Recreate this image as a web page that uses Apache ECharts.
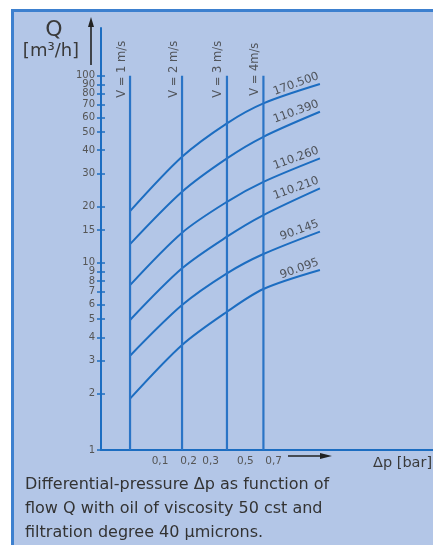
<!DOCTYPE html>
<html><head><meta charset="utf-8">
<script src="https://cdn.jsdelivr.net/npm/echarts@6/dist/echarts.min.js"></script>
<style>
html,body{margin:0;padding:0;background:#fff;width:433px;height:545px;overflow:hidden}
#panel{position:absolute;left:11px;top:9px;width:422px;height:536px;background:#b3c6e7;border-left:3px solid #3d80cf;border-top:3px solid #3d80cf;box-sizing:border-box}
#chart{position:absolute;left:0;top:0;width:433px;height:545px}
</style></head><body>
<div id="panel"></div><div id="chart"></div>
<script>
// ---- data ----
const velocityLabels = ['V = 1 m/s', 'V = 2 m/s', 'V = 3 m/s', 'V = 4m/s'];
const velocityDp = [0.032, 0.174, 0.388, 0.624];      // Δp [bar] of each velocity line (schematic)
const velocityLineQ = [1, 100];                         // Q range of velocity lines
const curvePointDp = [0.032, 0.174, 0.388, 0.624, 1.10];
const curveNames = ['170.500', '110.390', '110.260', '110.210', '90.145', '90.095'];
const q170500 = [18.9, 36.9, 55.7, 71.2, 90.3];
const q110390 = [12.6, 24.0, 36.2, 47.2, 64.2];
const q110260 = [7.61, 14.5, 21.2, 27.1, 36.2];
const q110210 = [4.95, 9.35, 13.8, 18.0, 25.0];
const q90145 = [3.19, 5.95, 8.79, 11.15, 14.7];
const q90095 = [1.88, 3.64, 5.48, 7.25, 9.16];
const yTickValues = [1, 2, 3, 4, 5, 6, 7, 8, 9, 10, 15, 20, 30, 40, 50, 60, 70, 80, 90, 100];
const xTickValues = [0.1, 0.2, 0.3, 0.5, 0.7];
const axisDpRange = [0.0021, 2.455];
const axisQRange = [1, 180];

// ---- scales: Δp axis is square-root, Q axis is logarithmic ----
const sx = d => Math.sqrt(d);
const ly = q => Math.log10(q);
const curves = [q170500, q110390, q110260, q110210, q90145, q90095];

const BLUE = '#1c6dc1';
const FONT = 'DejaVu Sans';

const series = [];
curves.forEach((qs, i) => {
  series.push({
    type: 'line', name: curveNames[i], smooth: 0.3, symbol: 'none', showSymbol: false,
    lineStyle: { color: BLUE, width: 2 },
    data: curvePointDp.map((d, k) => [sx(d), ly(qs[k])])
  });
});
velocityDp.forEach(d => {
  series.push({
    type: 'line', symbol: 'none', showSymbol: false,
    lineStyle: { color: '#2a74c6', width: 2.2 },
    data: velocityLineQ.map(q => [sx(d), ly(q)])
  });
});
series.push({
  type: 'scatter', symbolSize: 1, itemStyle: { color: 'transparent' },
  label: { show: true, rotate: 90, position: [-8, -6], align: 'center', verticalAlign: 'middle',
           fontFamily: FONT, fontSize: 11.5, color: '#383838' },
  data: velocityDp.map((d, i) => ({ value: [sx(d), ly(velocityLineQ[1])], label: { formatter: velocityLabels[i] } }))
});
series.push({
  type: 'scatter', symbolSize: 1, itemStyle: { color: 'transparent' },
  label: { show: true, rotate: 20, position: [1, -2], align: 'right', verticalAlign: 'bottom',
           fontFamily: FONT, fontSize: 11.5, color: '#333' },
  data: curves.map((qs, i) => ({ value: [sx(curvePointDp[curvePointDp.length - 1]), ly(qs[qs.length - 1])],
                                 label: { formatter: curveNames[i] } }))
});

const yCommon = {
  type: 'value', min: ly(axisQRange[0]), max: ly(axisQRange[1]), position: 'left',
  splitLine: { show: false }
};
const yLabelStyle = {
  formatter: v => String(Math.round(Math.pow(10, v))),
  color: '#555', fontFamily: FONT, fontSize: 10, margin: 6, hideOverlap: false
};
// the two top labels sit on overlaid axes so the library's end-label overlap rule keeps all of them
const n = yTickValues.length;
const lowerTicks = yTickValues.slice(0, n - 2);
const secondTopTick = yTickValues.slice(n - 2, n - 1);
const topTick = yTickValues.slice(n - 1);

const chart = echarts.init(document.getElementById('chart'), null, { renderer: 'canvas' });
chart.setOption({
  animation: false,
  backgroundColor: 'transparent',
  grid: { left: 101, right: 0, top: 28, bottom: 95, containLabel: false },
  xAxis: {
    type: 'value', min: sx(axisDpRange[0]), max: sx(axisDpRange[1]),
    axisLine: { show: true, onZero: false, lineStyle: { color: BLUE, width: 2 } },
    axisTick: { show: false },
    splitLine: { show: false },
    axisLabel: {
      customValues: xTickValues.map(sx),
      formatter: v => (v * v).toFixed(1).replace('.', ','),
      color: '#555', fontFamily: FONT, fontSize: 10.5, margin: 6, hideOverlap: false
    }
  },
  yAxis: [
    Object.assign({}, yCommon, {
      axisLine: { show: true, onZero: false, lineStyle: { color: BLUE, width: 2 } },
      axisTick: { show: true, length: 4, customValues: yTickValues.map(ly), lineStyle: { color: BLUE, width: 1.5 } },
      axisLabel: Object.assign({ customValues: lowerTicks.map(ly) }, yLabelStyle)
    }),
    Object.assign({}, yCommon, {
      axisLine: { show: false, onZero: false },
      axisTick: { show: true, inside: true, length: 4, customValues: yTickValues.map(ly), lineStyle: { color: BLUE, width: 1.5 } },
      axisLabel: Object.assign({ customValues: secondTopTick.map(ly) }, yLabelStyle)
    }),
    Object.assign({}, yCommon, {
      axisLine: { show: false, onZero: false },
      axisTick: { show: false },
      axisLabel: Object.assign({ customValues: topTick.map(ly) }, yLabelStyle)
    })
  ],
  series: series,
  graphic: [
    { type: 'text', style: { text: 'Q', x: 54, y: 30, align: 'center', verticalAlign: 'middle', font: '22px "DejaVu Sans"', fill: '#3a3a3a' } },
    { type: 'text', style: { text: '[m³/h]', x: 51, y: 51, align: 'center', verticalAlign: 'middle', font: '18px "DejaVu Sans"', fill: '#3a3a3a' } },
    { type: 'line', shape: { x1: 91, y1: 65, x2: 91, y2: 24 }, style: { stroke: '#222', lineWidth: 1.6 } },
    { type: 'polygon', shape: { points: [[88, 27], [91, 17], [94, 27]] }, style: { fill: '#222' } },
    { type: 'line', shape: { x1: 288, y1: 456, x2: 322, y2: 456 }, style: { stroke: '#222', lineWidth: 1.4 } },
    { type: 'polygon', shape: { points: [[320, 453], [332, 456], [320, 459]] }, style: { fill: '#222' } },
    { type: 'text', style: { text: 'Δp [bar]', x: 373, y: 463, align: 'left', verticalAlign: 'middle', font: '14.5px "DejaVu Sans"', fill: '#3a3a3a' } },
    { type: 'text', style: { text: 'Differential-pressure Δp as function of\nflow Q with oil of viscosity 50 cst and\nfiltration degree 40 μmicrons.',
        x: 25, y: 473, align: 'left', verticalAlign: 'top', lineHeight: 24, font: '16px "DejaVu Sans"', fill: '#333' } }
  ]
});
</script>
</body></html>
